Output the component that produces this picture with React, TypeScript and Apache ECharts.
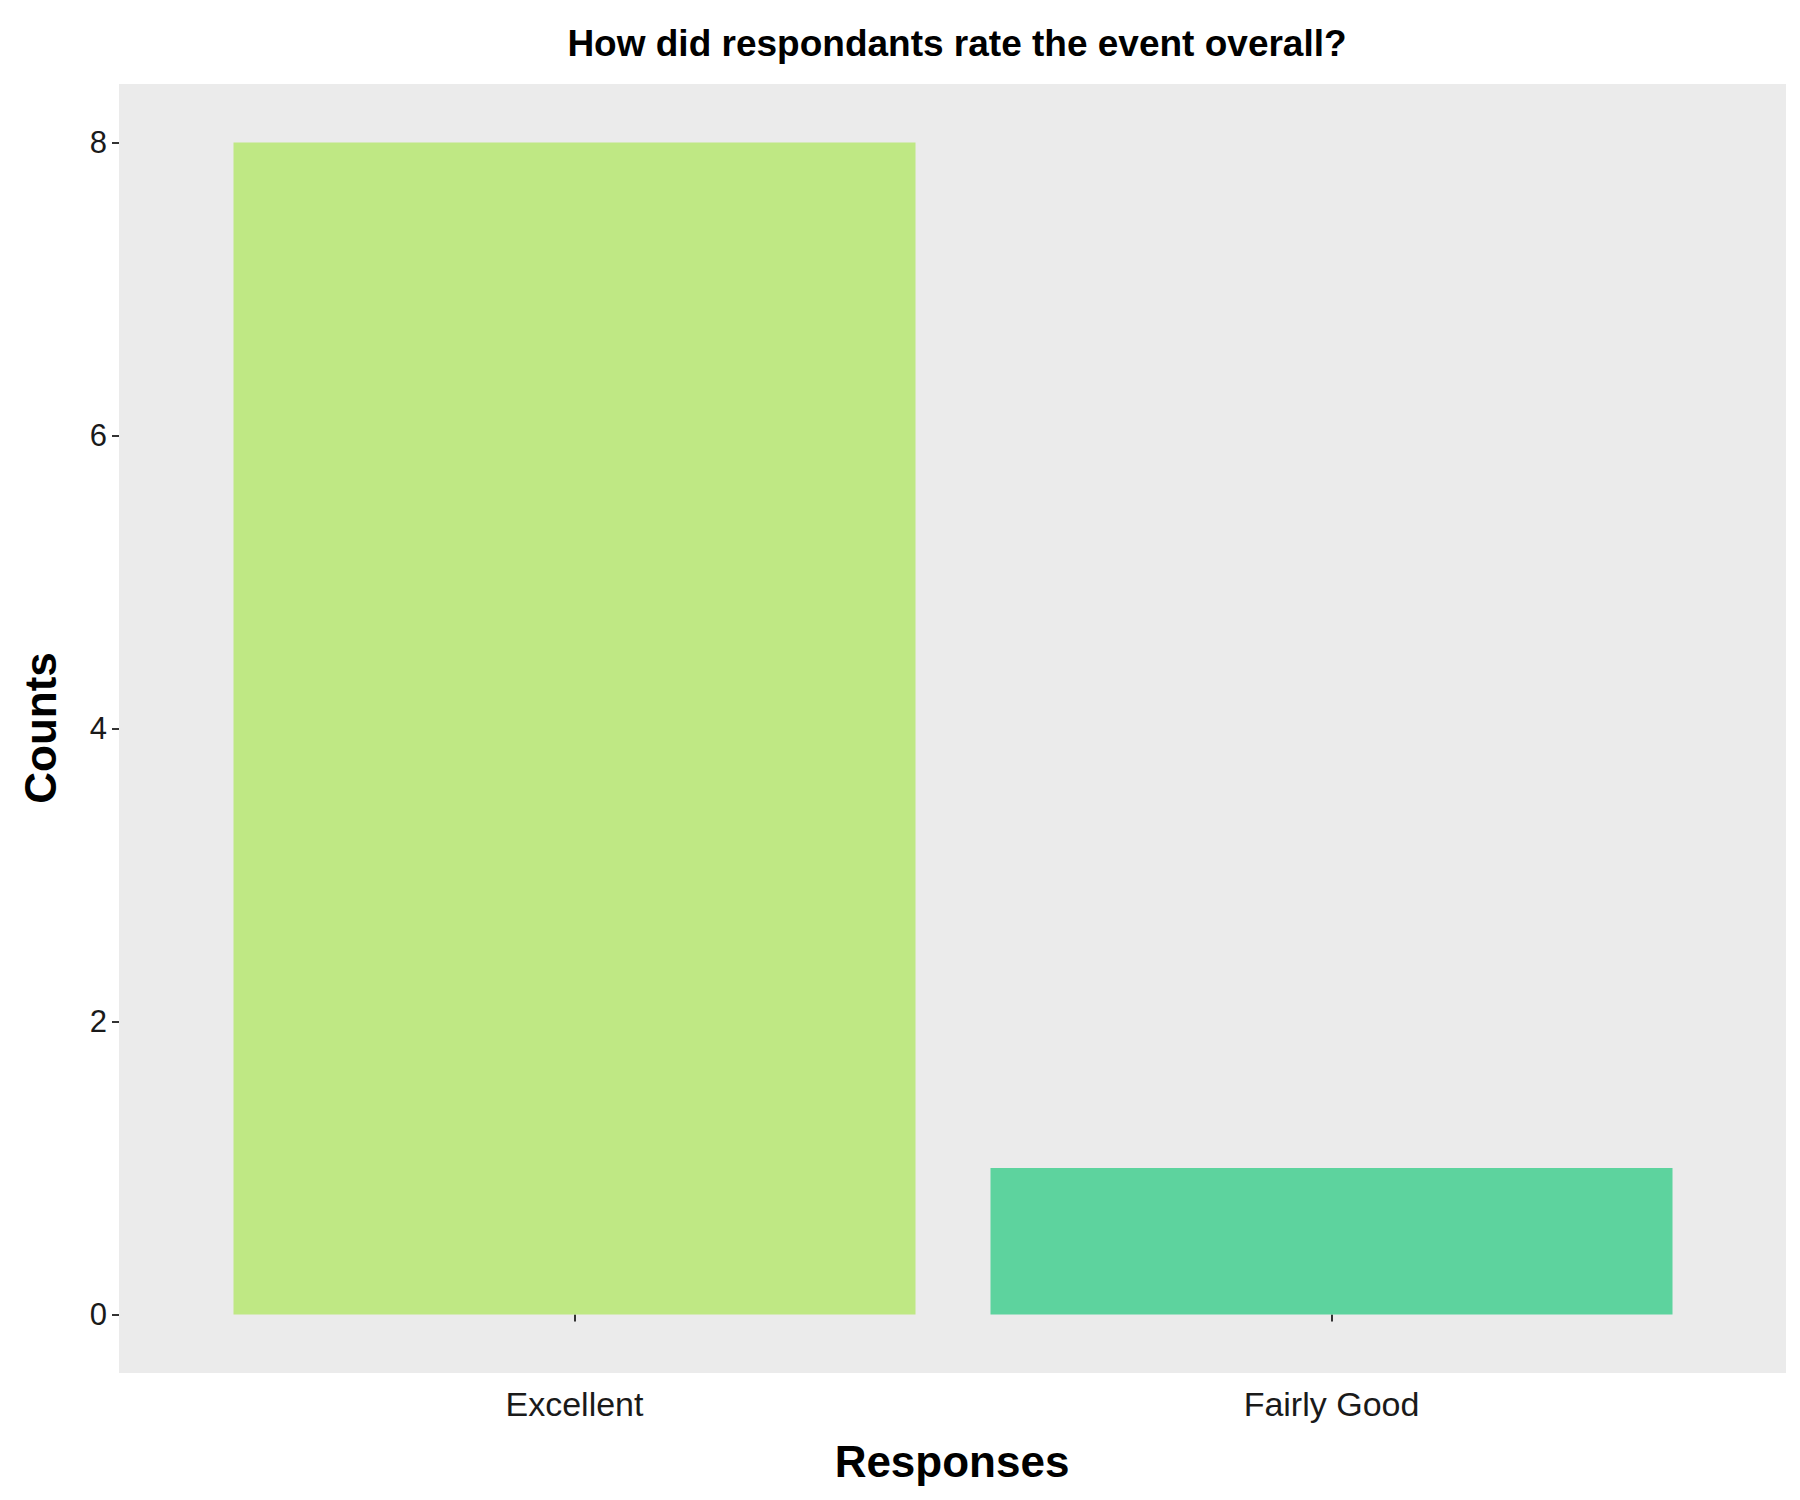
import { useEffect, useRef } from 'react'
import * as echarts from 'echarts'

const categories = ['Excellent', 'Fairly Good']
const counts = [8, 1]
const barColors = ['#BFE884', '#5DD39E']
const yTicks = [0, 2, 4, 6, 8]

export default function App() {
  const containerRef = useRef<HTMLDivElement>(null)

  useEffect(() => {
    document.body.style.margin = '0'
    if (!containerRef.current) return
    const chart = echarts.init(containerRef.current, null, { renderer: 'svg' })
    const font = 'Liberation Sans, Arial, sans-serif'

    // panel 119..1786 x 84..1373; category centers at ggplot positions
    const option = {
      animation: false,
      backgroundColor: '#ffffff',
      title: {
        text: 'How did respondants rate the event overall?',
        left: 952,
        top: 20,
        textAlign: 'center',
        textStyle: { fontFamily: font, fontSize: 37, fontWeight: 'bold', color: '#000' },
      },
      graphic: [
        {
          type: 'rect',
          z: -10,
          shape: { x: 119, y: 84, width: 1667, height: 1289 },
          style: { fill: '#EBEBEB' },
        },
        {
          type: 'text',
          x: 952,
          y: 1461,
          style: {
            text: 'Responses', fontFamily: font, fontSize: 44, fontWeight: 'bold',
            fill: '#000', align: 'center', verticalAlign: 'middle',
          },
        },
        {
          type: 'text',
          x: 40,
          y: 728,
          rotation: Math.PI / 2,
          style: {
            text: 'Counts', fontFamily: font, fontSize: 44, fontWeight: 'bold',
            fill: '#000', align: 'center', verticalAlign: 'middle',
          },
        },
      ],
      grid: { left: 196, top: 84, width: 1514, height: 1289 },
      xAxis: {
        type: 'category',
        data: categories,
        boundaryGap: true,
        axisLine: { show: false },
        axisTick: { show: true, alignWithLabel: true, length: 7, lineStyle: { color: '#333', width: 2 } },
        axisLabel: { fontFamily: font, fontSize: 34, color: '#1a1a1a', margin: 14 },
        splitLine: { show: false },
      },
      yAxis: {
        type: 'value',
        min: -0.4,
        max: 8.4,
        offset: 77,
        axisLine: { show: false },
        axisTick: { show: true, length: 7, customValues: yTicks, lineStyle: { color: '#333', width: 2 } },
        axisLabel: { fontFamily: font, fontSize: 31, color: '#1a1a1a', margin: 12, customValues: yTicks },
        splitLine: { show: false },
      },
      series: [
        {
          type: 'bar',
          barWidth: 682,
          data: counts.map((v, i) => ({ value: v, itemStyle: { color: barColors[i] } })),
        },
      ],
    }

    chart.setOption(option)
    return () => chart.dispose()
  }, [])

  return <div ref={containerRef} style={{ width: '1800px', height: '1500px' }} />
}
